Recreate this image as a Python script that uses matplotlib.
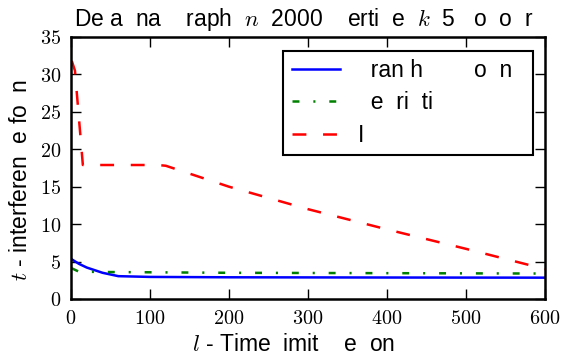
import matplotlib
matplotlib.use("Agg")
import matplotlib.pyplot as plt
from matplotlib.ticker import FuncFormatter, MultipleLocator

plt.rcParams['font.family'] = ['Liberation Sans', 'DejaVu Sans']
plt.rcParams['mathtext.fontset'] = 'cm'
plt.rcParams['lines.scale_dashes'] = False

# Data
bb_x = [1, 10, 20, 40, 60, 100, 200, 400, 600]
bb_y = [5.3, 4.7, 4.2, 3.5, 3.05, 2.95, 2.9, 2.87, 2.85]
heur_x = [1, 10, 50, 200, 400, 600]
heur_y = [4.1, 3.65, 3.6, 3.5, 3.45, 3.4]
ilp_x = [1, 5, 15, 60, 110, 120, 200, 300, 400, 500, 600]
ilp_y = [31.8, 30.5, 17.9, 17.9, 17.9, 17.8, 15.0, 12.0, 9.3, 6.7, 4.0]

title = "De a  na    raph  $n$  2000    erti  e  $k$  5   o  o  r"
xlabel = "$l$ - Time  imit    e  on"
ylabel = "$t$ - interferen  e fo  n"
labels = ["  ran h        o  n  ", "  e  ri  ti  ", "I"]

W, H = 562, 356
fig = plt.figure(figsize=(W / 100, H / 100), dpi=100)
ax = fig.add_axes([71/W, 1-299/H, (545-71)/W, (299-37)/H])

ax.plot(bb_x, bb_y, color='blue', lw=1.8, label=labels[0])
ax.plot(heur_x, heur_y, color='green', lw=1.8, dashes=(5, 10, 1.5, 10), label=labels[1])
ax.plot(ilp_x, ilp_y, color='red', lw=1.8, dashes=(10, 12), label=labels[2])

ax.set_xlim(0, 600)
ax.set_ylim(0, 35)
ax.xaxis.set_major_locator(MultipleLocator(100))
ax.yaxis.set_major_locator(MultipleLocator(5))
fmt = FuncFormatter(lambda v, p: f"${v:g}$")
ax.xaxis.set_major_formatter(fmt)
ax.yaxis.set_major_formatter(fmt)
ax.tick_params(direction='in', length=7, width=1, top=True, right=True,
               labelsize=14.5, pad=7)
for s in ax.spines.values():
    s.set_linewidth(1.8)

FS = 16.5
fig.text(74/W, 1-26/H, title, fontsize=FS, ha='left', va='baseline')
fig.text(192/W, 1-351/H, xlabel, fontsize=FS, ha='left', va='baseline')
fig.text(27/W, 1-281/H, ylabel, fontsize=FS, ha='left', va='baseline',
         rotation=90, rotation_mode='anchor')

leg = ax.legend(loc='upper right', bbox_to_anchor=(533/W, 1-51/H),
                bbox_transform=fig.transFigure, fontsize=FS, handlelength=2.1,
                handletextpad=0.8, labelspacing=0.41, borderaxespad=0,
                borderpad=0.35, fancybox=False, framealpha=1)
leg.get_frame().set_edgecolor('black')
leg.get_frame().set_linewidth(1.5)

fig.savefig("out.png", dpi=100)
